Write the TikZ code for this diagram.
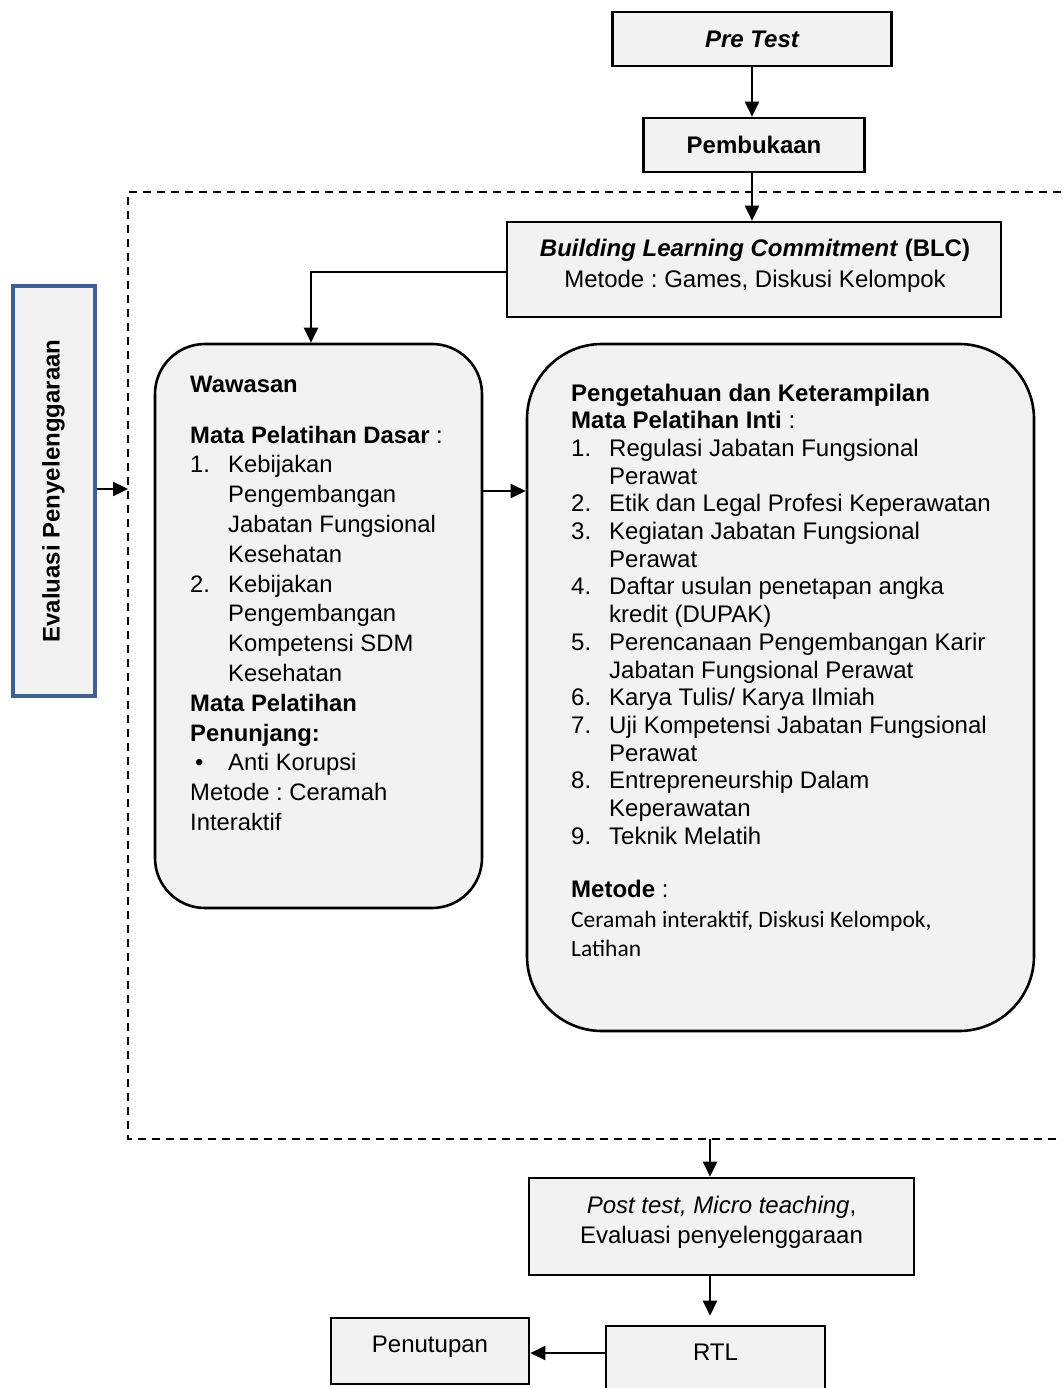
\documentclass[tikz,border=0pt]{standalone}
\usepackage{fontspec}
\setmainfont{Liberation Sans}
\newfontfamily\carlito{Carlito}
\usetikzlibrary{arrows.meta}
\definecolor{boxfill}{HTML}{F2F2F2}
\definecolor{evalblue}{HTML}{3E5F8F}
\newcommand\nitem[2]{\par\hangindent=38pt\hangafter=1\noindent\makebox[38pt][l]{#1}#2}
\tikzset{
  box/.style={draw=black, line width=2.6pt, fill=boxfill, inner sep=0pt, font=\fontsize{24}{30}\selectfont},
  txt/.style={inner sep=0pt, anchor=base west},
  ctxt/.style={inner sep=0pt, anchor=base, font=\fontsize{24}{30}\selectfont},
  arr/.style={line width=2.4pt, -{Triangle[length=15pt,width=14pt]}},
  frame/.style={line width=2.2pt, dash pattern=on 8pt off 6pt}
}
\begin{document}
\begin{tikzpicture}[x=1pt,y=-1pt]
\useasboundingbox (0,0) rectangle (1062,1388);
\clip (0,0) rectangle (1062,1388);

% dashed frame
\coordinate (ftl) at (128,192);
\coordinate (fbl) at (128,1139);
\coordinate (ftr) at (1075,192);
\coordinate (fbr) at (1075,1139);
\coordinate (fout) at (710,1139);
\draw[frame] (ftr) -- (ftl) -- (fbl) -- (fbr);

% top boxes
\node[box, minimum width=279pt, minimum height=54pt] (pre) at (752,39) {\bfseries\itshape Pre Test};
\node[box, minimum width=221pt, minimum height=54pt] (buka) at (754,145) {\bfseries Pembukaan};
\node[box, minimum width=494pt, minimum height=95pt] (blc) at (754,269.5) {};
\node[ctxt] (blct) at (755,257) {\parbox[t]{480pt}{\centering\frenchspacing\fontsize{24}{30}\selectfont
  \textbf{\textit{Building Learning Commitment}} \textbf{(BLC)}\\
  Metode : Games, Diskusi Kelompok}};

\draw[arr] (pre.south) -- (pre.south |- buka.north);
\draw[arr] (buka.south -| pre.south) -- (pre.south |- blc.north);

% evaluasi box
\node[draw=evalblue, line width=4pt, fill=boxfill, inner sep=0pt, minimum width=82pt, minimum height=410pt] (eval) at (53.5,491) {};
\node[rotate=90, inner sep=0pt, font=\fontsize{24}{30}\selectfont\bfseries] (evalt) at (eval.center) {Evaluasi Penyelenggaraan};
\draw[arr] (eval.east |- 0,489) -- (ftl |- 0,489);

% wawasan box
\node[box, rounded corners=50pt, minimum width=327pt, minimum height=564pt] (waw) at (318.5,626) {};
\node[txt] (wawt) at (190,392) {\parbox[t]{300pt}{\fontsize{23.8}{29.8}\selectfont\raggedright\frenchspacing
  \textbf{Wawasan}\\[21.2pt]
  \textbf{Mata Pelatihan Dasar} :
  \nitem{1.}{Kebijakan\newline Pengembangan\newline Jabatan Fungsional\newline Kesehatan}
  \nitem{2.}{Kebijakan\newline Pengembangan\newline Kompetensi SDM\newline Kesehatan}
  \par\noindent\textbf{Mata Pelatihan}\newline\textbf{Penunjang:}
  \nitem{\hspace*{5pt}\textbullet}{Anti Korupsi}
  \par\noindent Metode : Ceramah\newline Interaktif\par}};

% inti box
\node[box, rounded corners=75pt, minimum width=507pt, minimum height=687pt] (inti) at (780.5,687.5) {};
\node[txt] (intit) at (571,401) {\parbox[t]{470pt}{\fontsize{24}{27.7}\selectfont\raggedright\frenchspacing
  \textbf{Pengetahuan dan Keterampilan}\newline
  \textbf{Mata Pelatihan Inti} :
  \nitem{1.}{Regulasi Jabatan Fungsional\newline Perawat}
  \nitem{2.}{Etik dan Legal Profesi Keperawatan}
  \nitem{3.}{Kegiatan Jabatan Fungsional\newline Perawat}
  \nitem{4.}{Daftar usulan penetapan angka\newline kredit (DUPAK)}
  \nitem{5.}{Perencanaan Pengembangan Karir\newline Jabatan Fungsional Perawat}
  \nitem{6.}{Karya Tulis/ Karya Ilmiah}
  \nitem{7.}{Uji Kompetensi Jabatan Fungsional\newline Perawat}
  \nitem{8.}{Entrepreneurship Dalam\newline Keperawatan}
  \nitem{9.}{Teknik Melatih}
  \par\vspace{25.8pt}\noindent\textbf{Metode} :\par
  {\carlito\fontsize{23.5}{29.5}\selectfont\noindent Ceramah interaktif, Diskusi Kelompok,\newline Latihan\par}}};

% connectors in the frame
\draw[arr] (blc.west |- 0,272) -| (311,0 |- waw.north);
\draw[arr] (waw.east |- 0,491) -- (inti.west |- 0,491);

% bottom boxes
\node[box, minimum width=385pt, minimum height=97pt] (post) at (721.5,1226.5) {};
\node[ctxt] (postt) at (721.5,1213) {\parbox[t]{380pt}{\centering\fontsize{24}{30}\selectfont
  \textit{Post test, Micro teaching},\\Evaluasi penyelenggaraan}};
\node[box, minimum width=219pt, minimum height=80pt] (rtl) at (715.5,1366) {};
\node[ctxt] (rtlt) at (715.5,1360) {RTL};
\node[box, minimum width=198pt, minimum height=66pt] (pen) at (430,1351) {};
\node[ctxt] (pent) at (430,1352) {Penutupan};

\draw[arr] (fout) -- (fout |- post.north);
\draw[arr] (post.south -| fout) -- ([yshift=9pt]rtl.north -| fout);
\draw[arr] (rtl.west |- 0,1353) -- (pen.east |- 0,1353);
\end{tikzpicture}
\end{document}
